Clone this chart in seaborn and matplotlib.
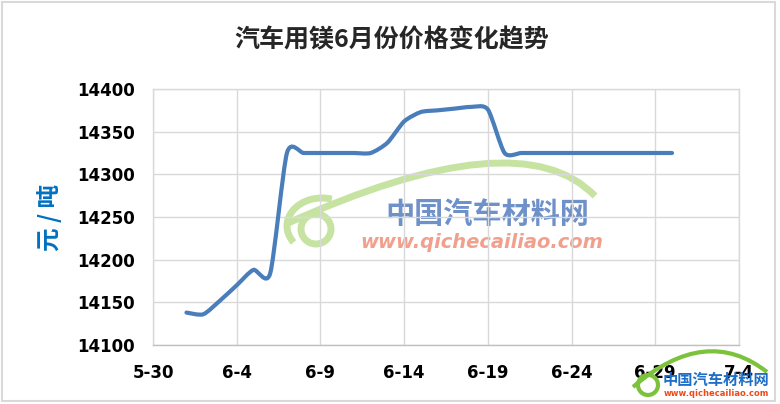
import numpy as np
import pandas as pd
import seaborn as sns
import matplotlib.pyplot as plt
import matplotlib.dates as mdates
from matplotlib.path import Path
from matplotlib.patches import PathPatch, Rectangle, Circle, Arc
from matplotlib.transforms import Affine2D

# --- data ---
dates = ["6-1", "6-2", "6-3", "6-4", "6-5", "6-6", "6-7", "6-8", "6-9", "6-10",
         "6-11", "6-12", "6-13", "6-14", "6-15", "6-16", "6-17", "6-18", "6-19", "6-20",
         "6-21", "6-22", "6-23", "6-24", "6-25", "6-26", "6-27", "6-28", "6-29", "6-30"]
prices = [14138, 14136, 14152, 14170, 14188, 14184, 14325, 14325, 14325, 14325,
          14325, 14325, 14337, 14362, 14373, 14375, 14377, 14379, 14376, 14325,
          14325, 14325, 14325, 14325, 14325, 14325, 14325, 14325, 14325, 14325]
tick_labels = ["5-30", "6-4", "6-9", "6-14", "6-19", "6-24", "6-29", "7-4"]
y_ticks = [14100, 14150, 14200, 14250, 14300, 14350, 14400]

title = "汽车用镁6月份价格变化趋势"
ylabel = "元 / 吨"

sns.set_theme(style="whitegrid")
plt.rcParams['font.family'] = ['DejaVu Sans', 'Noto Sans CJK SC']
CJK = ['Noto Sans CJK SC', 'DejaVu Sans']


def to_num(labels):
    return mdates.date2num(pd.to_datetime(["2015-" + s for s in labels], format="%Y-%m-%d"))


def smooth_path(xs, ys, k=0.12):
    # Excel style smoothed line: cubic bezier through every data point
    pts = np.column_stack([xs, ys])
    n = len(pts)
    verts, codes = [pts[0]], [Path.MOVETO]
    for i in range(n - 1):
        p0, p1 = pts[max(i - 1, 0)], pts[i]
        p2, p3 = pts[i + 1], pts[min(i + 2, n - 1)]
        verts += [p1 + (p2 - p0) * k, p2 - (p3 - p1) * k, p2]
        codes += [Path.CURVE4] * 3
    return Path(verts, codes)


W, H = 780, 404
fig = plt.figure(figsize=(W / 100, H / 100), dpi=100)
fig.patch.set_facecolor('white')
px = Affine2D().scale(1, -1).translate(0, H)  # pixel coords, origin top-left

ax = fig.add_axes([153 / W, 59 / H, 586 / W, 256 / H])
ax.set_facecolor('none')

x = to_num(dates)
ax.add_patch(PathPatch(smooth_path(x, np.array(prices, float)), fill=False,
                       edgecolor='#4A7EBB', lw=3, capstyle='round', zorder=3))

xt = to_num(tick_labels)
ax.set_xlim(xt[0], xt[-1])
ax.set_ylim(y_ticks[0], y_ticks[-1])
ax.set_xticks(xt)
ax.set_xticklabels(tick_labels)
ax.set_yticks(y_ticks)
ax.set_yticklabels([str(v) for v in y_ticks])
ax.grid(True, color='#D9D9D9', lw=1)
for s in ax.spines.values():
    s.set_color('#D9D9D9')
    s.set_linewidth(1)
ax.spines['bottom'].set_color('#BFBFBF')
ax.tick_params(axis='both', length=0, labelsize=12, labelcolor='black')
ax.tick_params(axis='y', pad=13)
ax.tick_params(axis='x', pad=14)
for lab in ax.get_xticklabels() + ax.get_yticklabels():
    lab.set_fontweight('bold')

fig.text(392 / W, 1 - 40 / H, title, ha='center', va='center', fontsize=18,
         fontweight='bold', family=CJK)
fig.text(50 / W, 1 - 217 / H, ylabel, ha='center', va='center', rotation=90,
         fontsize=17, fontweight='bold', color='#0070C0', family=CJK)

# --- watermark in the plot area (behind the grid) ---
roof = Path([(286, 224), (520, 118), (595, 196)], [Path.MOVETO, Path.CURVE3, Path.CURVE3])
fig.add_artist(PathPatch(roof, transform=px, fill=False, ec='#C6E3A2', lw=5, zorder=-2))
fig.add_artist(Circle((316, 229), 15, transform=px, fill=False, ec='#C6E3A2', lw=5, zorder=-2))
fig.add_artist(Arc((322, 226), 70, 56, angle=0, theta1=150, theta2=290, transform=px,
                   ec='#C6E3A2', lw=5, zorder=-2))
fig.text(487 / W, 1 - 214 / H, "中国汽车材料网", ha='center', va='center', fontsize=21,
         fontweight='bold', color='#6E91C9', family=CJK, zorder=-1)
fig.text(482 / W, 1 - 242 / H, "www.qichecailiao.com", ha='center', va='center', fontsize=14,
         fontweight='bold', style='italic', color='#F2A08E', zorder=-1)

# --- logo bottom right ---
logo = Path([(633, 387), (706, 324), (767, 372)], [Path.MOVETO, Path.CURVE3, Path.CURVE3])
fig.add_artist(PathPatch(logo, transform=px, fill=False, ec='#7CC23B', lw=3, zorder=5))
fig.add_artist(Circle((648, 385), 10, transform=px, fill=False, ec='#7CC23B', lw=3, zorder=5))
fig.text(716 / W, 1 - 380 / H, "中国汽车材料网", ha='center', va='center', fontsize=11,
         fontweight='bold', color='#1E6EC8', family=CJK, zorder=6)
fig.text(716 / W, 1 - 394 / H, "www.qichecailiao.com", ha='center', va='center', fontsize=6,
         fontweight='bold', color='#F04818', zorder=6)

# chart border
fig.add_artist(Rectangle((1.5, 1.5), 773, 399, transform=px, fill=False,
                         ec='#D9D9D9', lw=1.5, zorder=10))

fig.savefig('out.png', dpi=100)
